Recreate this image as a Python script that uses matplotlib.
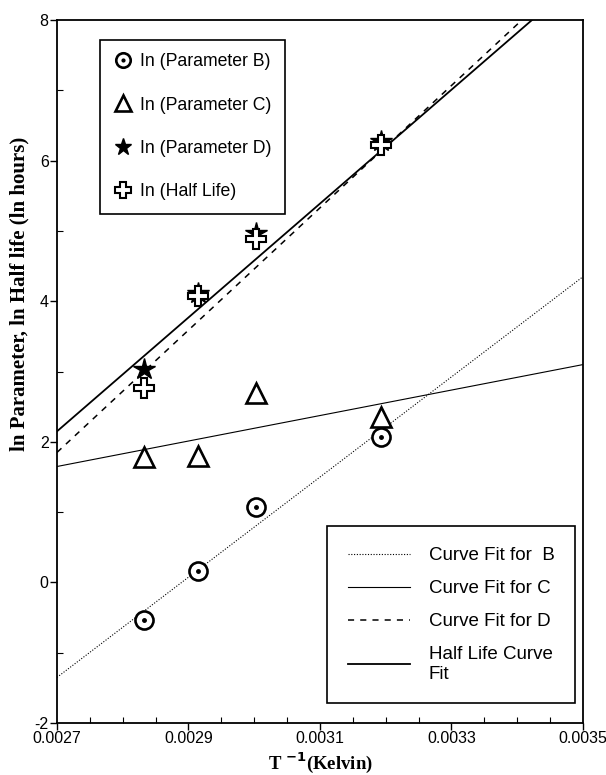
import numpy as np
import matplotlib
matplotlib.use("Agg")
import matplotlib.pyplot as plt
from matplotlib.ticker import MultipleLocator, FormatStrFormatter

plt.rcParams['font.family'] = ['Liberation Sans', 'DejaVu Sans']
plt.rcParams['axes.unicode_minus'] = False

# data: inverse temperature (1/K)
inv_t = [0.002832, 0.002914, 0.003002, 0.003193]

ln_b = [-0.53, 0.16, 1.07, 2.07]
ln_c = [1.78, 1.80, 2.70, 2.36]
ln_d = [3.04, 4.12, 4.97, 6.28]
ln_half = [2.76, 4.08, 4.88, 6.23]

# fitted lines, values read at the x-axis ends
fit_x = [0.0027, 0.0035]
fit_b = [-1.35, 4.35]
fit_c = [1.65, 3.10]
fit_d = [1.85, 8.81]
fit_half = [2.15, 8.63]

x_ticks = [0.0027, 0.0029, 0.0031, 0.0033, 0.0035]
y_ticks = [-2, 0, 2, 4, 6, 8]

fig = plt.figure(figsize=(6.06, 7.75), dpi=100)
ax = fig.add_axes([0.094, 0.067, 0.868, 0.907])

#fit lines
lb, = ax.plot(fit_x, fit_b, ls=(0, (1, 1.5)), lw=0.8, color="k")
lc, = ax.plot(fit_x, fit_c, ls="-", lw=0.8, color="k")
ld, = ax.plot(fit_x, fit_d, ls=(0, (4, 4)), lw=1.1, color="k")
lh, = ax.plot(fit_x, fit_half, ls="-", lw=1.3, color="k")

#points
pb, = ax.plot(inv_t, ln_b, ls="none", marker="o", ms=13, mfc="white", mec="k", mew=1.9)
pb_dot, = ax.plot(inv_t, ln_b, ls="none", marker="o", ms=2.5, color="k")
pc, = ax.plot(inv_t, ln_c, ls="none", marker="^", ms=14, mfc="white", mec="k", mew=1.9)
pd, = ax.plot(inv_t, ln_d, ls="none", marker="*", ms=16, color="k")
ph, = ax.plot(inv_t, ln_half, ls="none", marker="P", ms=14, mfc="white", mec="k", mew=1.5)

ax.set_xlim(0.0027, 0.0035)
ax.set_ylim(-2, 8)
ax.set_xticks(x_ticks)
ax.set_yticks(y_ticks)
ax.xaxis.set_minor_locator(MultipleLocator(0.00005))
ax.xaxis.set_major_formatter(FormatStrFormatter('%.4f'))
ax.yaxis.set_minor_locator(MultipleLocator(1))
ax.tick_params(which="major", direction="out", length=5, width=1, labelsize=11.5, pad=1)
ax.tick_params(which="minor", direction="in", length=4, width=0.8)
for s in ax.spines.values():
    s.set_linewidth(1.3)

ax.set_xlabel(r"T $^{\mathbf{-1}}$(Kelvin)", family="Liberation Serif", fontweight="bold",
              fontsize=13.5, va="center")
ax.xaxis.set_label_coords(0.5, -0.056)
ax.set_ylabel("ln Parameter, ln Half life (ln hours)", family="Liberation Serif",
              fontweight="bold", fontsize=15, va="center")
ax.yaxis.set_label_coords(-0.072, 0.61)

#legends
leg1 = ax.legend([(pb, pb_dot), pc, pd, ph],
                 ['In (Parameter B)', 'In (Parameter C)', 'In (Parameter D)', 'In (Half Life)'],
                 loc="upper left", bbox_to_anchor=(0.082, 0.972), fontsize=12.7, fancybox=False,
                 edgecolor="k", framealpha=1, labelspacing=1.5, handletextpad=0.4,
                 handlelength=1.1, borderpad=0.75, borderaxespad=0, markerscale=0.8)
leg1.get_frame().set_linewidth(1.2)
ax.add_artist(leg1)

leg2 = ax.legend([lb, lc, ld, lh],
                 ['Curve Fit for  B', 'Curve Fit for C', 'Curve Fit for D', 'Half Life Curve\nFit'],
                 loc="lower right", bbox_to_anchor=(0.985, 0.028), fontsize=13.5, fancybox=False,
                 edgecolor="k", framealpha=1, labelspacing=0.85, handletextpad=1.0,
                 handlelength=3.3, borderpad=1.1, borderaxespad=0)
leg2.get_frame().set_linewidth(1.2)

fig.savefig("out.png", dpi=100)
